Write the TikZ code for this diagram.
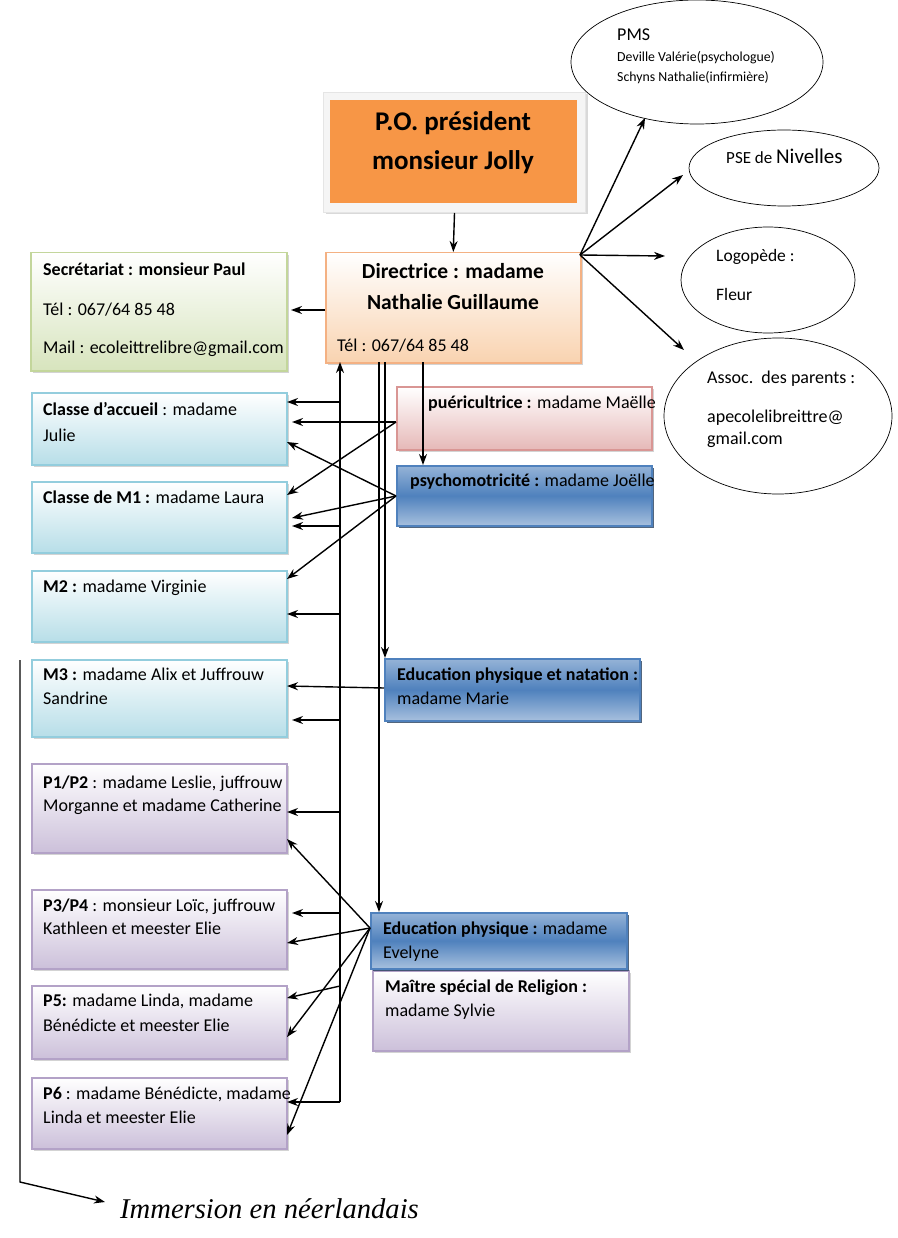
\documentclass[tikz,border=0pt]{standalone}
\usepackage{fontspec}
\setmainfont{Carlito}
\newfontfamily\imfont{Liberation Serif}
\usetikzlibrary{shadows,arrows.meta}
\definecolor{grnB}{HTML}{C3D69B}\definecolor{grnF}{HTML}{D7E4BD}
\definecolor{peaB}{HTML}{F4B183}\definecolor{peaF}{HTML}{F9D3B0}
\definecolor{cyaB}{HTML}{93CDDD}\definecolor{cyaF}{HTML}{B7DEE8}
\definecolor{purB}{HTML}{B3A2C7}\definecolor{purF}{HTML}{CCC0DA}
\definecolor{rosB}{HTML}{D99694}\definecolor{rosF}{HTML}{E6B9B8}
\definecolor{bluB}{HTML}{4F81BD}\definecolor{bluT}{HTML}{95B3D7}\definecolor{bluL}{HTML}{A7C0DE}
\definecolor{oran}{HTML}{F79646}
\tikzset{
 box/.style={draw=#1B,line width=1.5pt,top color=white,bottom color=#1F,
   drop shadow={opacity=0.35,shadow xshift=2pt,shadow yshift=-2pt}},
 bbox/.style={draw=bluB,line width=1.5pt,top color=bluT,bottom color=bluL,middle color=bluB,
   drop shadow={opacity=0.8,shadow xshift=2.5pt,shadow yshift=-2.5pt,fill=bluB!50!black}},
 t/.style={anchor=base west,inner sep=0pt,font=\fontsize{18}{21}\selectfont},
 arr/.style={-{Stealth[length=11pt,width=8pt]},line width=1.4pt},
}
\begin{document}
\begin{tikzpicture}[x=1pt,y=-1pt]
\useasboundingbox (0,0) rectangle (897,1238);
% PO
\node[draw=black!10,line width=1pt,fill=black!4,minimum width=262pt,minimum height=120pt,anchor=north west,
 drop shadow={opacity=0.3,shadow xshift=2pt,shadow yshift=-2pt}] (pof) at (323,92) {};
\node[fill=oran,minimum width=247pt,minimum height=103pt,anchor=north west,inner sep=0] (po) at (330,100) {};
\node[anchor=base,inner sep=0,font=\bfseries\fontsize{27}{30}\selectfont] (pot1) at (453,131) {P.O. président};
\node[anchor=base,inner sep=0,font=\bfseries\fontsize{27}{30}\selectfont] (pot2) at (453,170) {monsieur Jolly};
% Directrice
\node[box=pea,minimum width=255pt,minimum height=110pt,anchor=north west] (dir) at (325,252) {};
\node[anchor=base,inner sep=0,font=\bfseries\fontsize{21.5}{25}\selectfont] (dirt1) at (453,279) {Directrice : madame};
\node[anchor=base,inner sep=0,font=\bfseries\fontsize{21.5}{25}\selectfont] (dirt2) at (453,309) {Nathalie Guillaume};
\node[t] (dirtel) at (337,351) {Tél : 067/64 85 48};
% Secretariat
\node[box=grn,minimum width=256pt,minimum height=118pt,anchor=north west] (sec) at (30,252) {};
\node[t] (s1) at (43,276) {\bfseries Secrétariat : monsieur Paul};
\node[t] (s2) at (43,316) {Tél : 067/64 85 48};
\node[t] (s3) at (43,353) {Mail : ecoleittrelibre@gmail.com};
% maternelle
\node[box=cya,minimum width=255pt,minimum height=72pt,anchor=north west] (acc) at (31,392) {};
\node[t] (acc1) at (43,415) {\textbf{Classe d’accueil} : madame};
\node[t] (acc2) at (43,441) {Julie};
\node[box=cya,minimum width=255pt,minimum height=71pt,anchor=north west] (m1) at (31,481) {};
\node[t] (m1t) at (43,503) {\textbf{Classe de M1 :} madame Laura};
\node[box=cya,minimum width=255pt,minimum height=71pt,anchor=north west] (m2) at (31,570) {};
\node[t] (m2t) at (43,592) {\textbf{M2 :} madame Virginie};
\node[box=cya,minimum width=255pt,minimum height=77pt,anchor=north west] (m3) at (31,659) {};
\node[t] (m3a) at (43,680) {\textbf{M3 :} madame Alix et Juffrouw};
\node[t] (m3b) at (43,704) {Sandrine};
% primaire
\node[box=pur,minimum width=255pt,minimum height=89pt,anchor=north west] (p12) at (31,763) {};
\node[t] (p12a) at (43,788) {\textbf{P1/P2} : madame Leslie, juffrouw};
\node[t] (p12b) at (43,811) {Morganne et madame Catherine};
\node[box=pur,minimum width=255pt,minimum height=79pt,anchor=north west] (p34) at (31,889) {};
\node[t] (p34a) at (43,911) {\textbf{P3/P4} : monsieur Loïc, juffrouw};
\node[t] (p34b) at (43,934) {Kathleen et meester Elie};
\node[box=pur,minimum width=255pt,minimum height=73pt,anchor=north west] (p5) at (31,985) {};
\node[t] (p5a) at (43,1006) {\textbf{P5:} madame Linda, madame};
\node[t] (p5b) at (43,1031) {Bénédicte et meester Elie};
\node[box=pur,minimum width=255pt,minimum height=71pt,anchor=north west] (p6) at (31,1077) {};
\node[t] (p6a) at (43,1099) {\textbf{P6} : madame Bénédicte, madame};
\node[t] (p6b) at (43,1123) {Linda et meester Elie};
% specialists
\node[box=ros,minimum width=255pt,minimum height=63pt,anchor=north west] (pue) at (396,386) {};
\node[t] (puet) at (428,408) {\textbf{puéricultrice :} madame Maëlle};
\node[bbox,minimum width=255pt,minimum height=60pt,anchor=north west] (psy) at (396,465) {};
\node[t] (psyt) at (410,486) {\textbf{psychomotricité :} madame Joëlle};
\node[bbox,minimum width=255pt,minimum height=62pt,anchor=north west] (nat) at (384,658) {};
\node[t] (nat1) at (397,680) {\textbf{Education physique et natation :}};
\node[t] (nat2) at (397,704) {madame Marie};
\node[box=pur,minimum width=256pt,minimum height=80pt,anchor=north west] (rel) at (372,970) {};
\node[t] (rel1) at (385,992) {\textbf{Maître spécial de Religion :}};
\node[t] (rel2) at (385,1016) {madame Sylvie};
\node[bbox,minimum width=256pt,minimum height=56pt,anchor=north west] (eve) at (370,912) {};
\node[t] (eve1) at (383,934) {\textbf{Education physique :} madame};
\node[t] (eve2) at (383,958) {Evelyne};
% ellipses
\draw[line width=0.7pt] (697,62) ellipse [x radius=126, y radius=62];
\node[t] (pms) at (617,41) {PMS};
\node[t,font=\fontsize{13.8}{16}\selectfont] (pms1) at (617,62) {Deville Valérie(psychologue)};
\node[t,font=\fontsize{13.8}{16}\selectfont] (pms2) at (617,82) {Schyns Nathalie(infirmière)};
\draw[line width=0.7pt] (784,168) ellipse [x radius=95, y radius=38];
\node[t,font=\fontsize{17}{20}\selectfont] (pse) at (726,164) {PSE de {\fontsize{21}{24}\selectfont Nivelles}};
\draw[line width=0.7pt] (768,280) ellipse [x radius=87, y radius=53];
\node[t,font=\fontsize{17.5}{20}\selectfont] (log1) at (716,262) {Logopède :};
\node[t,font=\fontsize{17.5}{20}\selectfont] (log2) at (716,301) {Fleur};
\draw[line width=0.7pt] (778,416) ellipse [x radius=114, y radius=78];
\node[t] (as1) at (707,383) {Assoc.\ \ des parents :};
\node[t] (as2) at (707,422) {apecolelibreittre@};
\node[t] (as3) at (707,444) {gmail.com};
% coordinates
\coordinate (o) at (580,255);
\coordinate (e1) at (645,118); \coordinate (e2) at (683,175);
\coordinate (e3) at (665,256); \coordinate (e4) at (684,350);
\draw[arr] (o)--(e1); \draw[arr] (o)--(e2); \draw[arr] (o)--(e3); \draw[arr] (o)--(e4);
\draw[arr] (pof.south)--(dir.north);
\draw[arr] (325,310)--(291,310);
% vertical distribution line
\draw[arr] (340,1102)--(340,362);
\foreach \y/\tx in {402/287,526/292,614/287,720/292,812/287,913/292,1102/287}
  \draw[arr] (340,\y)--(\tx,\y);
\draw[arr] (340,986)--(287,998);
\draw[arr] (385,362)--(385,658);
\draw[arr] (379,362)--(379,912);
\draw[arr] (423,362)--(423,465);
% puer
\coordinate (pu) at (396,422);
\draw[arr] (pu)--(292,422); \draw[arr] (pu)--(287,495);
\coordinate (ps) at (396,496);
\draw[arr] (ps)--(287,442); \draw[arr] (ps)--(292,518); \draw[arr] (ps)--(287,579);
\draw[arr] (384,688)--(287,686);
\coordinate (ev) at (370,928);
\foreach \y in {839,943,1037,1135} \draw[arr] (ev)--(287,\y);
% immersion
\coordinate (im) at (105,1202);
\draw[arr] (20,660)--(20,1182)--(im);
\node[anchor=base west,inner sep=0,font=\imfont\itshape\fontsize{28.6}{32}\selectfont] (imt) at (120,1218) {Immersion en néerlandais};
\end{tikzpicture}
\end{document}
